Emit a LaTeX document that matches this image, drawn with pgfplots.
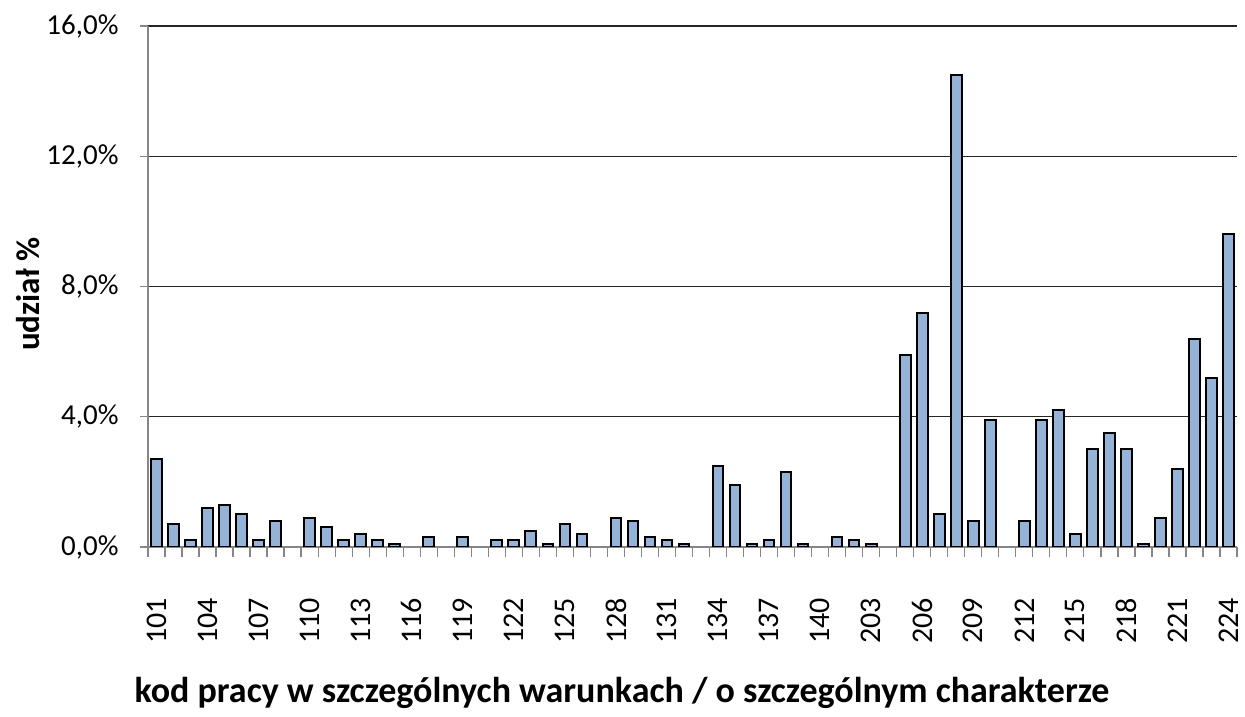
\documentclass[border=0pt]{standalone}
\usepackage{pgfplots}
\pgfplotsset{compat=1.18}
\usepackage{fontspec}
\setmainfont{Carlito}
\definecolor{barfill}{RGB}{149,179,215}
\definecolor{axgray}{RGB}{134,134,134}
\pgfplotstableread{
x y
0 2.7
1 0.7
2 0.2
3 1.2
4 1.3
5 1.0
6 0.2
7 0.8
9 0.9
10 0.6
11 0.2
12 0.4
13 0.2
14 0.1
16 0.3
18 0.3
20 0.2
21 0.2
22 0.5
23 0.1
24 0.7
25 0.4
27 0.9
28 0.8
29 0.3
30 0.2
31 0.1
33 2.5
34 1.9
35 0.1
36 0.2
37 2.3
38 0.1
40 0.3
41 0.2
42 0.1
44 5.9
45 7.2
46 1.0
47 14.5
48 0.8
49 3.9
51 0.8
52 3.9
53 4.2
54 0.4
55 3.0
56 3.5
57 3.0
58 0.1
59 0.9
60 2.4
61 6.4
62 5.2
63 9.6
}\datatable
\begin{document}
\begin{tikzpicture}
\begin{axis}[
  at={(148pt,170pt)}, anchor=south west,
  scale only axis, width=1089pt, height=521pt,
  xmin=-0.5, xmax=63.5, ymin=0, ymax=16,
  axis x line*=bottom, axis y line*=left,
  axis line style={axgray, line width=1.3pt, -},
  tick align=outside,
  xtick={0,3,...,63},
  xticklabels={101,104,107,110,113,116,119,122,125,128,131,134,137,140,203,206,209,212,215,218,221,224},
  minor xtick={-0.5,0.5,...,63.5},
  major x tick style={draw=none},
  minor tick length=10pt,
  minor x tick style={axgray, line width=1.3pt},
  ytick={0,4,8,12,16},
  yticklabels={{0,0\%},{4,0\%},{8,0\%},{12,0\%},{16,0\%}},
  major tick length=8pt,
  y tick style={axgray, line width=1.3pt},
  ymajorgrids,
  grid style={black!85, line width=1.3pt},
  xticklabel shift=42pt,
  xticklabel style={rotate=90, anchor=east, inner sep=1pt, font=\fontsize{30}{36}\selectfont},
  yticklabel style={font=\fontsize{29}{34}\selectfont, xshift=-18pt},
  xlabel={\textbf{kod pracy w szczególnych warunkach / o szczególnym charakterze}},
  xlabel style={at={(axis description cs:0.4353,-0.2802)}, anchor=center, font=\fontsize{36}{42}\selectfont},
  ylabel={\textbf{udział \%}},
  ylabel style={at={(axis description cs:-0.1102,0.485)}, anchor=center, font=\fontsize{33}{40}\selectfont},
]
\addplot[ybar, bar width=10.7pt, fill=barfill, draw=black, line width=2pt] table[x=x,y=y] {\datatable};
\end{axis}
\pgfresetboundingbox
\path (0pt,0pt) rectangle (1245pt,717pt);
\end{tikzpicture}
\end{document}
